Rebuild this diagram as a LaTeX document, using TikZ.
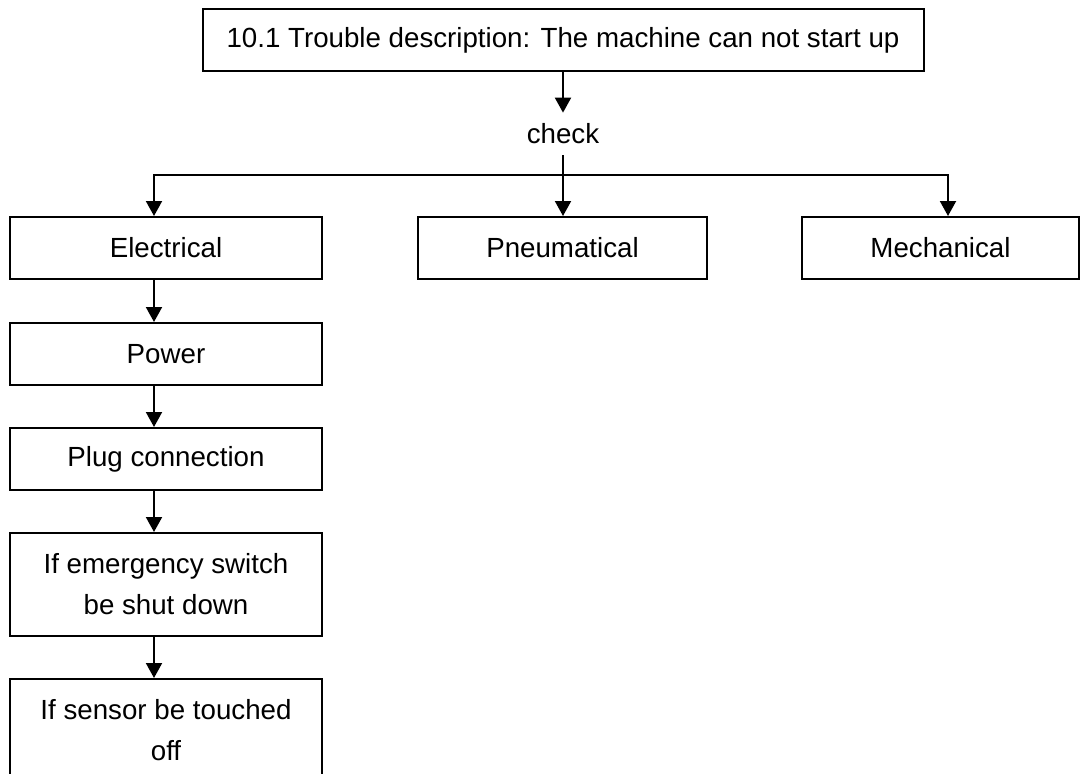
\documentclass[tikz,border=0pt]{standalone}
\usepackage{fontspec}
\setmainfont{Liberation Sans}
\usetikzlibrary{arrows.meta,positioning}

\begin{document}
\begin{tikzpicture}[
  x=1pt, y=-1pt,
  font=\fontsize{27.7}{41}\selectfont,
  box/.style={rectangle, draw, line width=2pt, align=center, inner sep=0pt,
              minimum height=62pt},
  lbox/.style={box, minimum width=312pt},
  tall/.style={lbox, minimum height=103pt},
  edge/.style={draw, line width=2pt, -{Triangle[length=15pt,width=16pt]}},
]
  \useasboundingbox (0,0) rectangle (1080,774);
  \clip (0,0) rectangle (1080,774);

  % Trouble and check
  \node[box, minimum width=721pt] (trouble) at (563,40)
       {10.1 Trouble description: The machine can not start up};
  \node[inner sep=11pt] (check) at (563,134) {check};

  % Three branches
  \node[lbox] (elec) at (166,248) {Electrical};
  \node[box, minimum width=289pt] (pneu) at (562.5,248) {Pneumatical};
  \node[box, minimum width=277pt] (mech) at (940.5,248) {Mechanical};

  % Electrical chain
  \node[lbox, below=42pt of elec] (power) {Power};
  \node[lbox, below=41pt of power] (plug) {Plug connection};
  \node[tall, below=41pt of plug] (emerg) {If emergency switch\\ be shut down};
  \node[tall, below=41pt of emerg] (sensor) {If sensor be touched\\ off};

  % lanes for the arrows
  \coordinate (bus) at (563,175);
  \coordinate (lane) at (154,0);
  \coordinate (mlane) at (948,0);

  \draw[edge] (trouble.south) -- (check.north);
  \draw[edge] (check.south) -- (pneu.north -| check.south);
  \draw[edge] (bus) -| (elec.north -| lane);
  \draw[edge] (bus) -| (mech.north -| mlane);

  \draw[edge] (elec.south -| lane) -- (power.north -| lane);
  \draw[edge] (power.south -| lane) -- (plug.north -| lane);
  \draw[edge] (plug.south -| lane) -- (emerg.north -| lane);
  \draw[edge] (emerg.south -| lane) -- (sensor.north -| lane);

\end{tikzpicture}
\end{document}
